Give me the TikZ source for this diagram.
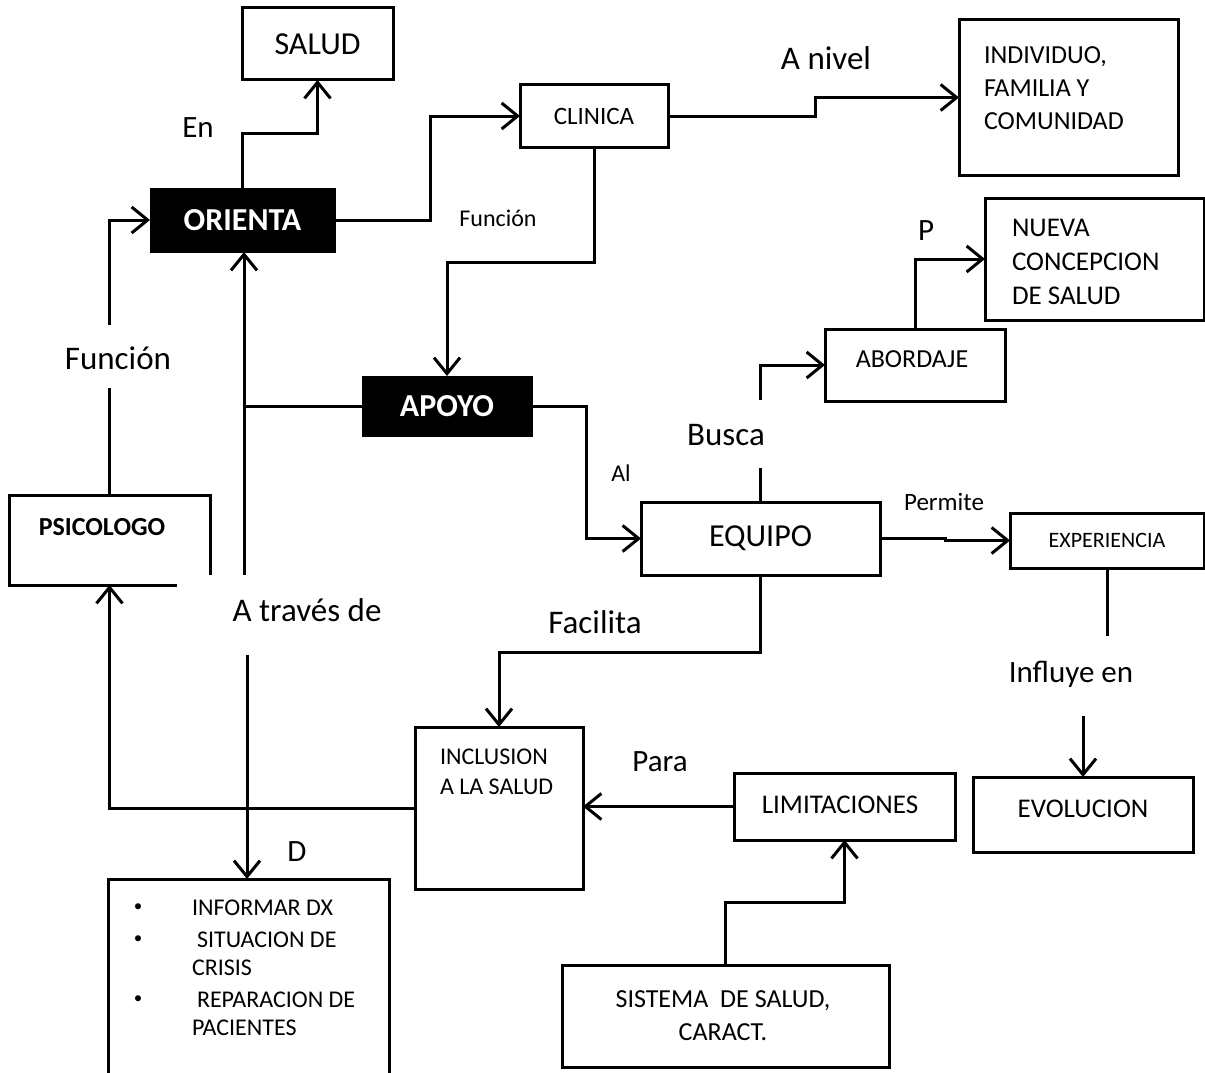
\documentclass[tikz,border=0pt]{standalone}
\usepackage{fontspec}
\setmainfont{Carlito}
\usetikzlibrary{arrows.meta,calc}
\newcommand\fsz[2]{\fontsize{#1}{#2}\selectfont}
\begin{document}
\begin{tikzpicture}[x=1pt,y=-1pt,line width=3pt,
  box/.style={draw=black,line width=3pt,inner sep=0pt,outer sep=0pt},
  dark/.style={fill=black,draw=black,line width=1pt,inner sep=0pt,outer sep=0pt,text=white,font=\bfseries\fsz{32}{32}},
  txt/.style={inner sep=0pt,outer sep=0pt},
  lbl/.style={inner sep=0pt,outer sep=0pt,font=\fsz{33}{33}},
  arr/.style={-{Straight Barb[length=16pt,width=26pt]}},
  conn/.style={line width=3pt,line join=miter}]
\fill[white] (0,0) rectangle (1205,1073);
\useasboundingbox (0,0) rectangle (1205,1073);

% boxes
\node[box,minimum width=151,minimum height=72,font=\fsz{32}{32}] (salud) at (317.5,44) {SALUD};
\node[dark,minimum width=185,minimum height=64] (orienta) at (242.5,220) {ORIENTA};
\node[box,minimum width=148,minimum height=62,font=\fsz{25}{25}] (clinica) at (594,116) {CLINICA};
\node[box,minimum width=219,minimum height=155] (indiv) at (1068.5,97.5) {};
\node[txt,anchor=west,align=left,font=\fsz{26}{33}] (indivtxt) at (984,88) {INDIVIDUO,\\FAMILIA Y\\COMUNIDAD};
\node[box,minimum width=219,minimum height=122] (nueva) at (1094.5,259) {};
\node[txt,anchor=west,align=left,font=\fsz{27}{34}] (nuevatxt) at (1012,262) {NUEVA\\CONCEPCION\\DE SALUD};
\node[box,minimum width=180,minimum height=72] (abordaje) at (915,365) {};
\node[txt,font=\fsz{26}{26}] (abordajetxt) at (912,359) {ABORDAJE};
\node[dark,minimum width=170,minimum height=60] (apoyo) at (447,406) {APOYO};
\node[box,minimum width=239,minimum height=73,font=\fsz{32}{32}] (equipo) at (760.5,538.5) {EQUIPO};
\node[box,minimum width=194,minimum height=55,font=\fsz{22}{22}] (exper) at (1107,540.5) {EXPERIENCIA};
\node[box,minimum width=220,minimum height=75] (evol) at (1083,814.5) {};
\node[txt,font=\fsz{27}{27}] (evoltxt) at (1083,809) {EVOLUCION};
\node[box,minimum width=221,minimum height=67] (limit) at (844.5,806.5) {};
\node[txt,font=\fsz{27}{27}] (limittxt) at (840,805) {LIMITACIONES};
\node[box,minimum width=168,minimum height=162] (inclusion) at (499,808) {};
\node[txt,anchor=west,align=left,font=\fsz{24}{30}] (inclusiontxt) at (440,772) {INCLUSION\\A LA SALUD};
\node[box,minimum width=327,minimum height=102] (sistema) at (725.5,1016) {};
\node[txt,align=center,font=\fsz{26}{33}] (sistematxt) at (723,1016) {SISTEMA\ \ DE SALUD,\\CARACT.};
\node[box,minimum width=281,minimum height=201] (lista) at (248.5,979.5) {};
\node[txt,font=\fsz{17}{17}] (b1) at (138,908) {•};
\node[txt,font=\fsz{17}{17}] (b2) at (138,940) {•};
\node[txt,font=\fsz{17}{17}] (b3) at (138,1000) {•};
\node[txt,anchor=west,font=\fsz{24}{24}] (i1) at (192,908) {INFORMAR DX};
\node[txt,anchor=west,align=left,font=\fsz{24}{28}] (i2) at (192,954) {\hspace{5pt}SITUACION DE\\CRISIS};
\node[txt,anchor=west,align=left,font=\fsz{24}{28}] (i3) at (192,1013.5) {\hspace{5pt}REPARACION DE\\PACIENTES};

% psicologo (open corner)
\node[txt,minimum width=201,minimum height=90] (psico) at (109.5,540) {};
\draw[conn] ($(psico.south east)+(-33,0)$) -- (psico.south west) -- (psico.north west) -- (psico.north east) -- ($(psico.south east)+(0,-10)$);
\node[txt,font=\bfseries\fsz{26}{26}] (psicotxt) at (102,527) {PSICOLOGO};

% labels
\node[lbl,font=\fsz{31}{31}] (en) at (198,128) {En};
\node[lbl] (anivel) at (826,58) {A nivel};
\node[lbl,font=\fsz{24}{24}] (funcion2) at (498,218) {Función};
\node[lbl,font=\fsz{31}{31}] (p) at (926,231) {P};
\node[lbl] (funcion1) at (118,358) {Función};
\node[lbl] (busca) at (726,435) {Busca};
\node[lbl,font=\fsz{24}{24}] (al) at (621,473) {Al};
\node[lbl,font=\fsz{25}{25}] (permite) at (944,502) {Permite};
\node[lbl] (atraves) at (307,610) {A través de};
\node[lbl] (facilita) at (595,622) {Facilita};
\node[lbl,font=\fsz{31}{31}] (influye) at (1071,674) {Influye en};
\node[lbl,font=\fsz{31}{31}] (para) at (660,762) {Para};
\node[lbl,font=\fsz{31}{31}] (d) at (297,852) {D};

% free-end coordinates
\coordinate (atop) at (244,575);
\coordinate (abot) at (247,655);
\coordinate (buscatop) at (760,400);
\coordinate (influyebot) at (1083,716);
\coordinate (funciontop) at (109.5,325);

% connectors
\draw[conn,arr] (orienta.north) -- ++(0,-55) -| (salud.south);
\draw[conn,arr] (orienta.east) -- ++(95,0) |- (clinica.west);
\draw[conn,arr] (clinica.east) -- ++(147,0) -- ++(0,-18.5) -- (indiv.west);
\draw[conn,arr] (clinica.south) -- ++(0,115) -| (apoyo.north);
\draw[conn,arr] (atop) -- (atop |- orienta.south);
\draw[conn] (apoyo.west) -- (apoyo.west -| atop);
\draw[conn,arr] (abot) -- (abot |- lista.north);
\draw[conn,arr] (apoyo.east) -- ++(54,0) |- (equipo.west);
\draw[conn] (equipo.north) -- ++(0,-34);
\draw[conn,arr] (buscatop) |- (abordaje.west);
\draw[conn,arr] (abordaje.north) |- (nueva.west);
\draw[conn,arr] (equipo.east) -- ++(65,0) -- ++(0,2) -- (exper.west);
\draw[conn] (exper.south) -- ++(0,68);
\draw[conn,arr] (influyebot) -- (evol.north);
\draw[conn,arr] (equipo.south) -- ++(0,77) -| (inclusion.north);
\draw[conn,arr] (limit.west) -- (limit.west -| inclusion.east);
\draw[conn,arr] (sistema.north) -- ++(0,-63) -| (limit.south);
\draw[conn,arr] (inclusion.west) -| (psico.south);
\draw[conn] (psico.north) -- ++(0,-107);
\draw[conn,arr] (funciontop) |- (orienta.west);
\end{tikzpicture}
\end{document}
